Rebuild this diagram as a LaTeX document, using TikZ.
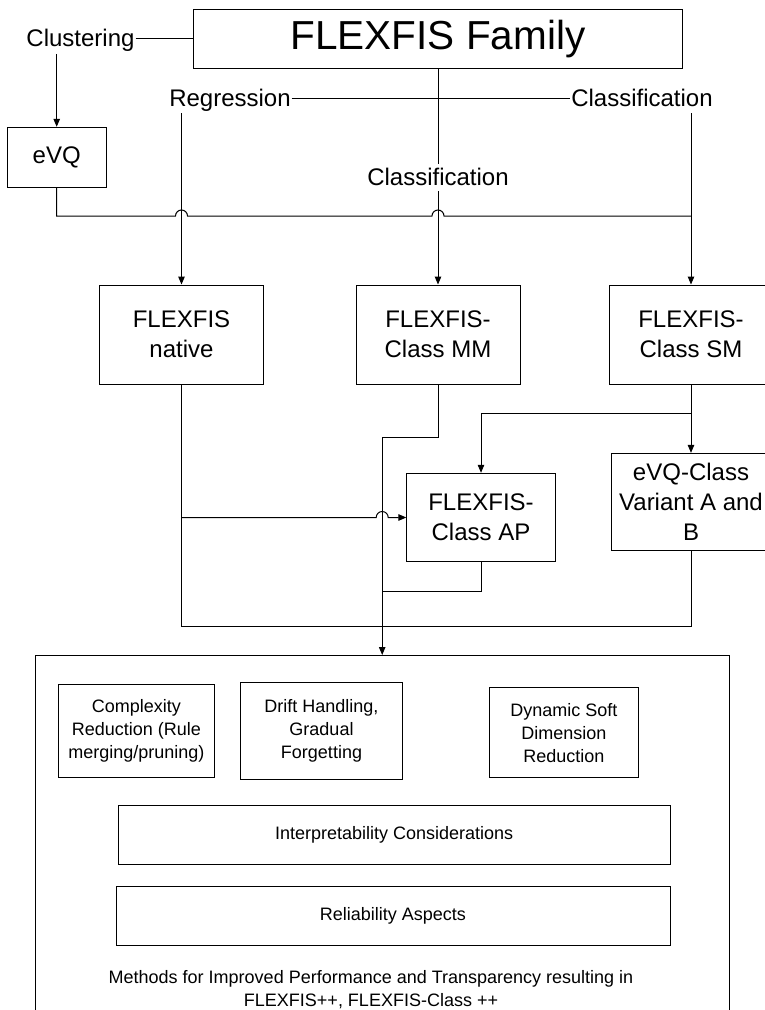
\documentclass[tikz,border=0pt]{standalone}
\usepackage{fontspec}
\setmainfont{Liberation Sans}
\usetikzlibrary{arrows.meta}
\begin{document}
\begin{tikzpicture}[x=1pt,y=-1pt,line width=1pt,
  box/.style={draw,inner sep=0pt,align=center},
  lvl/.style={font=\fontsize{24}{30}\selectfont},
  smalltext/.style={font=\fontsize{18}{23}\selectfont},
  lbl/.style={inner sep=0.5pt,anchor=base,font=\fontsize{24}{30}\selectfont},
  arr/.style={-{Triangle[length=8pt,width=6.5pt]}},
  lvlbox/.style={box,lvl,minimum width=164pt,minimum height=99pt}]
\clip (0,0) rectangle (765,1010);

% top level
\node[box,minimum width=489pt,minimum height=59pt,
      font=\fontsize{40.5}{48}\selectfont] (fam) at (438,38.8) {FLEXFIS Family};
\node[lbl] (clust) at (80.5,46) {Clustering};
\node[box,lvl,minimum width=98.7pt,minimum height=60pt] (evq) at (56.7,157.3) {eVQ};
\node[lbl] (regr) at (230,106) {Regression};
\node[lbl] (clsR) at (642,106) {Classification};
\node[lbl] (clsM) at (438,185) {Classification};

% second level
\node[lvlbox] (native) at (181.5,334.5) {FLEXFIS\\native};
\node[lvlbox] (mm) at (438,334.5) {FLEXFIS-\\Class MM};
\node[lvlbox] (sm) at (691,334.5) {FLEXFIS-\\Class SM};
\node[box,lvl,minimum width=148.3pt,minimum height=88.4pt] (ap) at (481,517.5) {FLEXFIS-\\Class AP};
\node[box,lvl,minimum width=160pt,minimum height=96.7pt] (evqc) at (691,501.7) {eVQ-Class\\Variant A and\\B};

% methods container (open at the bottom edge)
\node[draw,inner sep=0pt,minimum width=694.3pt,minimum height=390pt,anchor=north] (big) at (382.2,655) {};
\node[box,smalltext,minimum width=156pt,minimum height=93pt] (cplx) at (136.3,730.8) {Complexity\\Reduction (Rule\\merging/pruning)};
\node[box,smalltext,minimum width=161.6pt,minimum height=96.7pt] (drift) at (321.5,730.7) {Drift Handling,\\Gradual\\Forgetting};
\node[box,smalltext,minimum width=149pt,minimum height=90pt] (dyn) at (563.8,732.7) {Dynamic Soft\\Dimension\\Reduction};
\node[box,smalltext,minimum width=551.7pt,minimum height=58.3pt] (interp) at (394.2,834.9) {Interpretability Considerations};
\node[box,smalltext,minimum width=554pt,minimum height=59.7pt] (reli) at (393,915.9) {Reliability Aspects};
\node[smalltext,inner sep=0pt,align=center] (methods) at (371,990)
  {Methods for Improved Performance and Transparency resulting in\\FLEXFIS++, FLEXFIS-Class ++};

% connectors of the top part
\draw ([yshift=7.7pt]clust.base east) -- ([yshift=7.7pt]clust.base east -| fam.west);
\draw[arr] ([yshift=-2pt]clust.south -| evq.north) -- (evq.north);
\draw ([yshift=7.7pt]regr.base east) -- ([yshift=7.7pt]clsR.base west);
\draw (fam.south) -- ([yshift=3pt]clsM.north);
\draw[arr] ([yshift=-5pt]clsM.south) -- (mm.north);
\draw[arr] ([yshift=-1.5pt]regr.south -| native.north) -- (native.north);
\draw[arr] ([yshift=-1.5pt]regr.south -| sm.north) -- (sm.north);

% eVQ feed line, hopping over the two vertical arrows
\coordinate (j1) at (native.north |- 0,216);
\coordinate (j2) at (mm.north |- 0,216);
\coordinate (j3) at (sm.north |- 0,216);
\draw (evq.south) |- ([xshift=-6pt]j1) arc[start angle=180,end angle=0,radius=6pt]
  -- ([xshift=-6pt]j2) arc[start angle=180,end angle=0,radius=6pt] -- (j3);

% connectors of the lower part
\coordinate (k) at (mm.south |- 0,437);
\draw[arr] (mm.south) -- (k) -| (big.north);
\coordinate (s) at (sm.south |- 0,413.3);
\draw[arr] (sm.south) -- (evqc.north);
\draw[arr] (s) -| (ap.north);
\coordinate (h) at (big.north |- ap.west);
\draw[arr] (native.south |- ap.west) -- ([xshift=-6pt]h) arc[start angle=180,end angle=0,radius=6pt] -- (ap.west);
\draw (ap.south) |- (big.north |- 0,591.7);
\coordinate (b) at (evqc.south |- 0,626);
\draw (native.south) |- (b) -- (evqc.south);
\end{tikzpicture}
\end{document}
